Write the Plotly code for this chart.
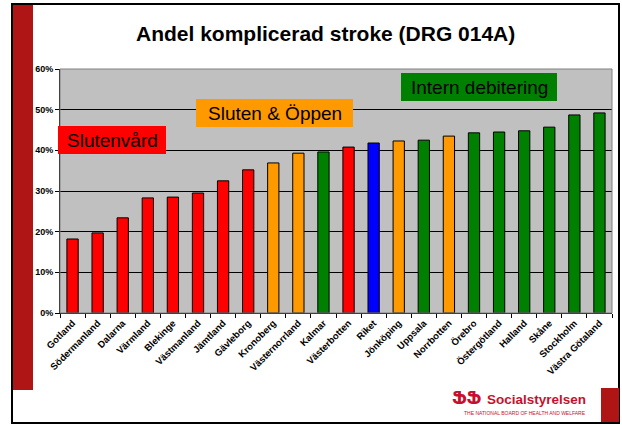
import plotly.graph_objects as go

# data
regions = ['Gotland', 'Södermanland', 'Dalarna', 'Värmland', 'Blekinge', 'Västmanland',
           'Jämtland', 'Gävleborg', 'Kronoberg', 'Västernorrland', 'Kalmar', 'Västerbotten',
           'Riket', 'Jönköping', 'Uppsala', 'Norrbotten', 'Örebro', 'Östergötland',
           'Halland', 'Skåne', 'Stockholm', 'Västra Götaland']
share = [18.2, 19.7, 23.4, 28.3, 28.5, 29.5, 32.5, 35.2, 36.9, 39.3, 39.6, 40.8,
         41.8, 42.3, 42.5, 43.5, 44.3, 44.5, 44.8, 45.7, 48.7, 49.2]
group = ['S', 'S', 'S', 'S', 'S', 'S', 'S', 'S', 'O', 'O', 'I', 'S',
         'R', 'O', 'I', 'O', 'I', 'I', 'I', 'I', 'I', 'I']
y_ticks = [0, 10, 20, 30, 40, 50, 60]

colours = {'S': '#FF0000', 'O': '#FF9900', 'I': '#008000', 'R': '#0000FF'}

W, H = 622, 425
L, R, T, B = 60, 612, 69, 313


def px(x):
    return (x - L) / (R - L)


def py(y):
    return (B - y) / (B - T)


fig = go.Figure(go.Bar(
    x=regions, y=share,
    marker=dict(color=[colours[g] for g in group], line=dict(color='black', width=1)),
    width=0.45,
))

font_box = dict(family='Liberation Sans, Arial', size=19, color='black')
boxes = [('Slutenvård', 58, 166, 126, 154, '#FF0000'),
         ('Sluten & Öppen', 196, 353, 99, 127, '#FF9900'),
         ('Intern debitering', 401, 557, 73, 101, '#008000')]

shapes = [
    # slide frame and decoration
    dict(type='rect', xref='paper', yref='paper', x0=px(12), x1=px(619), y0=py(4), y1=py(423),
         line=dict(color='black', width=2), layer='below'),
    dict(type='rect', xref='paper', yref='paper', x0=px(13), x1=px(33), y0=py(5), y1=py(390),
         fillcolor='#B01515', line_width=0, layer='below'),
    dict(type='rect', xref='paper', yref='paper', x0=px(601), x1=px(619), y0=py(388), y1=py(422),
         fillcolor='#B01515', line_width=0, layer='below'),
    dict(type='rect', xref='paper', yref='paper', x0=0, x1=1, y0=0, y1=1,
         line=dict(color='#808080', width=1)),
]
annotations = []
for text, x0, x1, y0, y1, c in boxes:
    shapes.append(dict(type='rect', xref='paper', yref='paper', x0=px(x0), x1=px(x1),
                       y0=py(y0), y1=py(y1), fillcolor=c, line_width=0))
    annotations.append(dict(text=text, xref='paper', yref='paper', x=px((x0 + x1) / 2),
                            y=py((y0 + y1) / 2), xanchor='center', yanchor='middle',
                            showarrow=False, font=font_box))

red = '#C8102E'
annotations += [
    dict(text='<b>Andel komplicerad stroke (DRG 014A)</b>', xref='paper', yref='paper',
         x=px(325), y=py(33), xanchor='center', yanchor='middle', showarrow=False,
         font=dict(family='Liberation Sans, Arial', size=21, color='black')),
    dict(text='<b>ՖՖ</b>', xref='paper', yref='paper', x=px(484), y=py(398),
         xanchor='right', yanchor='middle', showarrow=False,
         font=dict(family='DejaVu Sans, Liberation Sans', size=17, color=red)),
    dict(text='<b>Socialstyrelsen</b>', xref='paper', yref='paper', x=px(588), y=py(399),
         xanchor='right', yanchor='middle', showarrow=False,
         font=dict(family='Liberation Sans, Arial', size=13.5, color=red)),
    dict(text='THE NATIONAL BOARD OF HEALTH AND WELFARE', xref='paper', yref='paper',
         x=px(588), y=py(413), xanchor='right', yanchor='middle', showarrow=False,
         font=dict(family='Liberation Sans, Arial', size=5, color=red)),
]

fig.update_layout(
    width=W, height=H,
    margin=dict(l=L, r=W - R, t=T, b=H - B),
    paper_bgcolor='white', plot_bgcolor='#C0C0C0',
    showlegend=False,
    shapes=shapes, annotations=annotations,
    font=dict(family='Liberation Sans, Arial', color='black'),
)
fig.update_xaxes(
    tickangle=-45, tickfont=dict(size=9.5, family='Liberation Sans, Arial'),
    ticks='outside', ticklen=4, tickcolor='black', showline=True, linecolor='black',
    tickson='boundaries', ticklabelstandoff=0, automargin=False,
    tickprefix='<b>', ticksuffix='</b>',
)
fig.update_yaxes(
    range=[0, 60], tickvals=y_ticks, ticktext=[f'<b>{v}%</b>' for v in y_ticks],
    tickfont=dict(size=9), ticks='outside', ticklen=4, tickcolor='black', automargin=False,
    showline=True, linecolor='black', gridcolor='black', gridwidth=1, zeroline=False,
)

# the page has a default 8px body margin; remove it so the slide fills the window
fig.write_html('out.html', config={'displayModeBar': False},
               post_script="document.body.style.margin='0';")
